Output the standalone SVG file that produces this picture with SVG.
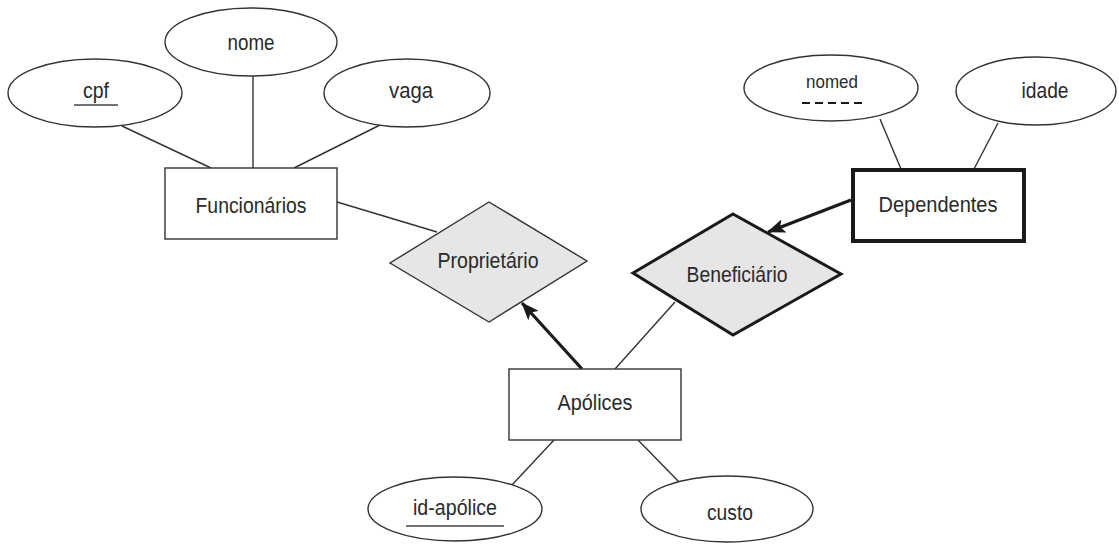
<svg xmlns="http://www.w3.org/2000/svg" width="1119" height="544" viewBox="0 0 1119 544">
<style>
.attr{fill:#fff;stroke:#333;stroke-width:1.4}
.ent{fill:#fff;stroke:#333;stroke-width:1.4}
.weak{fill:#fff;stroke:#1a1a1a;stroke-width:4}
.rel{fill:#e6e6e6;stroke:#333;stroke-width:1.4}
.rel2{fill:#e6e6e6;stroke:#1a1a1a;stroke-width:3}
.ln{stroke:#333;stroke-width:1.4;fill:none}
.arr{stroke:#1a1a1a;stroke-width:3.2;fill:none;marker-end:url(#ah)}
text{font-family:"Liberation Sans",Arial,sans-serif;font-size:22px;fill:#2a2a2a;text-anchor:middle}
.ul{stroke:#444;stroke-width:1.5}
</style>
<defs>
<marker id="ah" markerUnits="userSpaceOnUse" markerWidth="18" markerHeight="14" viewBox="0 0 18 14" refX="17" refY="7" orient="auto">
<path d="M0,0 L18,7 L0,14 L4,7 Z" fill="#1a1a1a"/>
</marker>
</defs>
<g id="connectors">
<line class="ln" x1="122" y1="126" x2="211" y2="168"/>
<line class="ln" x1="253" y1="76" x2="253" y2="168"/>
<line class="ln" x1="380" y1="125" x2="294" y2="168"/>
<line class="ln" x1="337" y1="202" x2="437" y2="232"/>
<line class="ln" x1="880" y1="119" x2="901" y2="169"/>
<line class="ln" x1="998" y1="123" x2="974" y2="169"/>
<line class="ln" x1="615" y1="369" x2="675" y2="302"/>
<line class="ln" x1="554" y1="440" x2="512" y2="485"/>
<line class="ln" x1="638" y1="440" x2="682" y2="485"/>
<line class="arr" x1="582" y1="369" x2="522" y2="303"/>
<line class="arr" x1="851" y1="200" x2="768" y2="232"/>
</g>
<g id="cpf">
<ellipse class="attr" cx="95" cy="93" rx="87" ry="34"/>
<text x="96" y="98" textLength="26" lengthAdjust="spacingAndGlyphs">cpf</text>
<line class="ul" x1="74" y1="105" x2="118" y2="105"/>
</g>
<g id="nome">
<ellipse class="attr" cx="251" cy="42" rx="86" ry="34"/>
<text x="251" y="50" textLength="47" lengthAdjust="spacingAndGlyphs">nome</text>
</g>
<g id="vaga">
<ellipse class="attr" cx="407" cy="93" rx="83" ry="34"/>
<text x="411" y="98" textLength="44" lengthAdjust="spacingAndGlyphs">vaga</text>
</g>
<g id="funcionarios">
<rect class="ent" x="165" y="168" width="172" height="71"/>
<text x="251" y="213" textLength="111" lengthAdjust="spacingAndGlyphs">Funcionários</text>
</g>
<g id="proprietario">
<polygon class="rel" points="489,202 587,261 489,322 390,263"/>
<text x="488" y="268" textLength="101" lengthAdjust="spacingAndGlyphs">Proprietário</text>
</g>
<g id="beneficiario">
<polygon class="rel2" points="733,214 841,274 733,335 633,273"/>
<text x="737" y="282" textLength="101" lengthAdjust="spacingAndGlyphs">Beneficiário</text>
</g>
<g id="dependentes">
<rect class="weak" x="853" y="170" width="171" height="71"/>
<text x="938" y="212" textLength="119" lengthAdjust="spacingAndGlyphs">Dependentes</text>
</g>
<g id="nomed">
<ellipse class="attr" cx="831" cy="88" rx="87" ry="33"/>
<text x="832" y="88" style="font-size:19px" textLength="52" lengthAdjust="spacingAndGlyphs">nomed</text>
<line x1="802" y1="103" x2="863" y2="103" stroke="#1a1a1a" stroke-width="2.2" stroke-dasharray="8,5"/>
</g>
<g id="idade">
<ellipse class="attr" cx="1036" cy="91" rx="80" ry="34"/>
<text x="1045" y="98" textLength="47" lengthAdjust="spacingAndGlyphs">idade</text>
</g>
<g id="apolices">
<rect class="ent" x="509" y="369" width="172" height="71"/>
<text x="595" y="410" textLength="75" lengthAdjust="spacingAndGlyphs">Apólices</text>
</g>
<g id="id-apolice">
<ellipse class="attr" cx="455" cy="509" rx="87" ry="32"/>
<text x="455" y="515" textLength="84" lengthAdjust="spacingAndGlyphs">id-apólice</text>
<line class="ul" x1="406" y1="526" x2="504" y2="526"/>
</g>
<g id="custo">
<ellipse class="attr" cx="727" cy="509" rx="86" ry="33"/>
<text x="730" y="520" textLength="46" lengthAdjust="spacingAndGlyphs">custo</text>
</g>
</svg>
